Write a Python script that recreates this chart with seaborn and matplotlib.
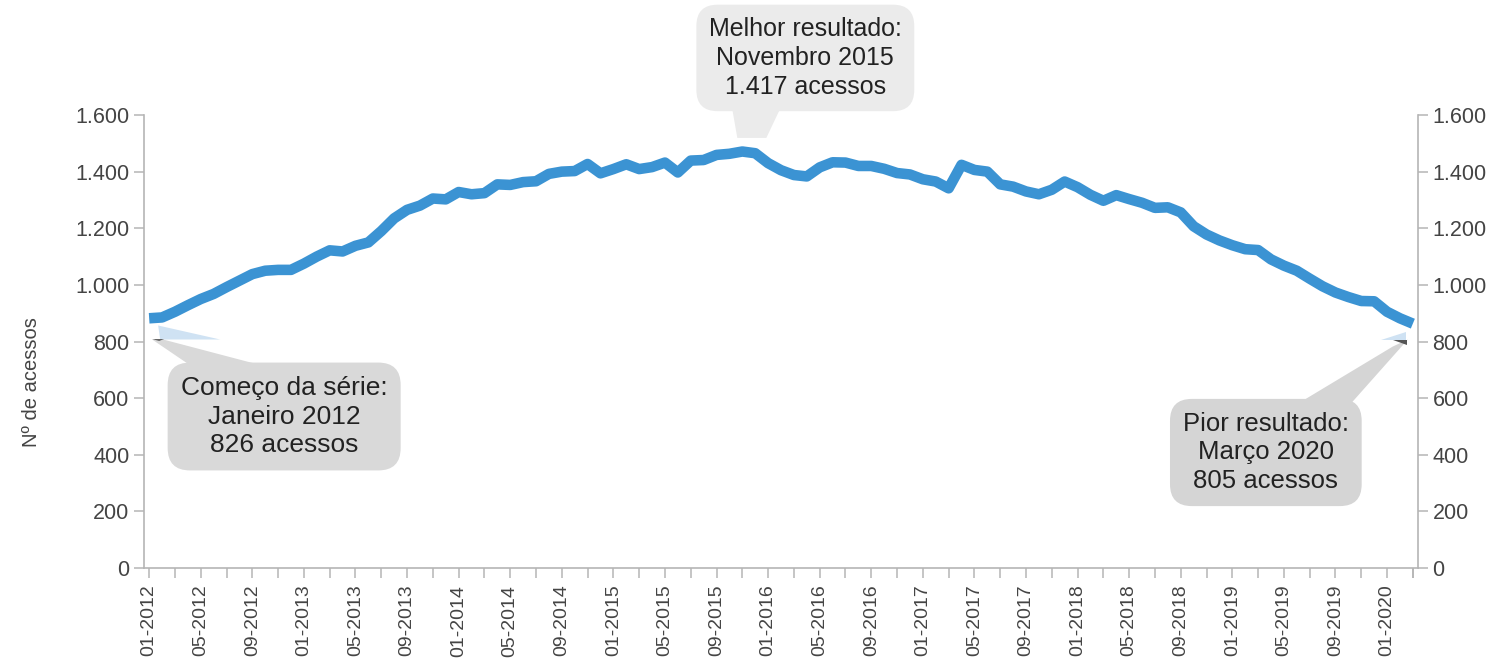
import pandas as pd
import seaborn as sns
import matplotlib.pyplot as plt
from matplotlib.ticker import FixedLocator, FuncFormatter
from matplotlib.patches import Polygon
from matplotlib.transforms import IdentityTransform

# monthly accesses, 01-2012 .. 03-2020
start_month = "2012-01"
n_months = 99
acessos = [
    882, 885, 905, 928, 950, 968, 992, 1015, 1038, 1050, 1053, 1053,
    1075, 1100, 1122, 1118, 1138, 1150, 1190, 1235, 1265, 1280, 1305, 1302,
    1328, 1320, 1324, 1355, 1353, 1363, 1366, 1392, 1400, 1402, 1427, 1394,
    1409, 1426, 1409, 1416, 1432, 1397, 1439, 1441, 1459, 1463, 1471, 1465,
    1430, 1405, 1388, 1383, 1415, 1433, 1432, 1420, 1420, 1410, 1395, 1390,
    1373, 1365, 1341, 1424, 1406, 1400, 1355, 1347, 1330, 1320, 1336, 1365,
    1345, 1318, 1297, 1317, 1303, 1290, 1272, 1274, 1256, 1207, 1178, 1157,
    1140, 1126, 1123, 1090, 1068, 1050, 1022, 995, 973, 957, 943, 942,
    905, 882, 863,
]
y_ticks = [0, 200, 400, 600, 800, 1000, 1200, 1400, 1600]

callout_best = "Melhor resultado:\nNovembro 2015\n1.417 acessos"
callout_first = "Começo da série:\nJaneiro 2012\n826 acessos"
callout_worst = "Pior resultado:\nMarço 2020\n805 acessos"

months = pd.date_range(start_month, periods=n_months, freq="MS")
df = pd.DataFrame({"idx": range(n_months), "acessos": acessos})
month_labels = [m.strftime("%m-%Y") for m in months]

sns.set_style("white")
plt.rcParams["font.family"] = ["Liberation Sans", "DejaVu Sans"]

line_color = "#3b93d3"
axis_color = "#b5b5b5"
tick_text = "#444444"

fig = plt.figure(figsize=(14.93, 6.6), dpi=100)
ax = fig.add_axes([144 / 1493, 1 - 568 / 660, (1418 - 144) / 1493, (568 - 115) / 660])

sns.lineplot(data=df, x="idx", y="acessos", ax=ax, color=line_color,
             linewidth=7.6, solid_capstyle="butt", solid_joinstyle="round")

ax.set_xlim(-0.4, n_months - 1 + 0.4)
ax.set_ylim(0, 1600)
ax.set_xlabel("")
ax.set_ylabel("Nº de acessos", fontsize=14.5, color=tick_text)
ax.yaxis.set_label_coords(-0.081, 0.41)

thousands = FuncFormatter(lambda v, _: f"{int(v):,}".replace(",", "."))
ax.set_yticks(y_ticks)
ax.yaxis.set_major_formatter(thousands)

ax.xaxis.set_major_locator(FixedLocator(list(range(0, n_months, 4))))
ax.set_xticklabels(month_labels[::4], rotation=90)
ax.xaxis.set_minor_locator(FixedLocator(list(range(2, n_months, 4)) + [n_months - 1]))

for side in ["top", "right"]:
    ax.spines[side].set_visible(False)
for side in ["left", "bottom"]:
    ax.spines[side].set_color(axis_color)
    ax.spines[side].set_linewidth(1.2)

ax.tick_params(axis="both", which="both", direction="out", color=axis_color,
               width=1.1, length=7, labelcolor=tick_text)
ax.tick_params(axis="y", labelsize=15.5, pad=3.5, left=True)
ax.tick_params(axis="x", labelsize=14, pad=5, bottom=True)
ax.tick_params(axis="x", which="minor", bottom=True, length=7)

ax2 = ax.twinx()
ax2.set_ylim(ax.get_ylim())
ax2.set_yticks(y_ticks)
ax2.yaxis.set_major_formatter(thousands)
for side in ["top", "left", "bottom"]:
    ax2.spines[side].set_visible(False)
ax2.spines["right"].set_color(axis_color)
ax2.spines["right"].set_linewidth(1.2)
ax2.tick_params(axis="y", direction="out", color=axis_color, width=1.1, length=7,
                labelcolor=tick_text, labelsize=15.5, pad=3.5, right=True)


def pointer(tip, offsets, fc, z=4):
    # polygon given in pixel offsets from the anchor point
    tx, ty = ax.transData.transform(tip)
    pts = [(tx + dx, ty + dy) for dx, dy in offsets]
    ax.add_patch(Polygon(pts, closed=True, fc=fc, ec="none", lw=0,
                         transform=IdentityTransform(), clip_on=False, zorder=z))


def callout(text, xy, offset, fc, size):
    ax.annotate(
        text, xy=xy, xycoords="data", xytext=offset, textcoords="offset pixels",
        ha="center", va="center", multialignment="center", fontsize=size,
        linespacing=1.25, color="#222222", annotation_clip=False, zorder=5,
        bbox=dict(boxstyle="round,pad=0.5,rounding_size=0.85", fc=fc, ec="none"),
    )


best_tip = (46, 1519)
first_tip = (0, 800)
worst_tip = (n_months - 1, 800)

pointer(best_tip, [(-5, 0), (24, 0), (43, 40), (-12, 40)], "#ebebeb")
callout(callout_best, best_tip, (63, 80), "#ebebeb", 18)

pointer(first_tip, [(9, 16), (71, 2), (11, 2)], "#cfe2f3", 3)
pointer(first_tip, [(3, 2), (14, 2), (151, -34), (56, -34)], "#d9d9d9")
pointer(first_tip, [(3, 2.5), (15, 2.5), (10, 0.5)], "#666666", 4.5)
callout(callout_first, first_tip, (135, -75), "#d9d9d9", 19)

pointer(worst_tip, [(-7, 10), (-7, 2), (-32, 2)], "#cfe2f3", 3)
pointer(worst_tip, [(-5, 2), (-20, -5), (-128, -70), (-69, -70)], "#d5d5d5")
pointer(worst_tip, [(-20, 2), (-6, 2), (-6, -3)], "#555555", 4.5)
callout(callout_worst, worst_tip, (-147, -111), "#d5d5d5", 18.5)

fig.savefig("out.png", dpi=100)
